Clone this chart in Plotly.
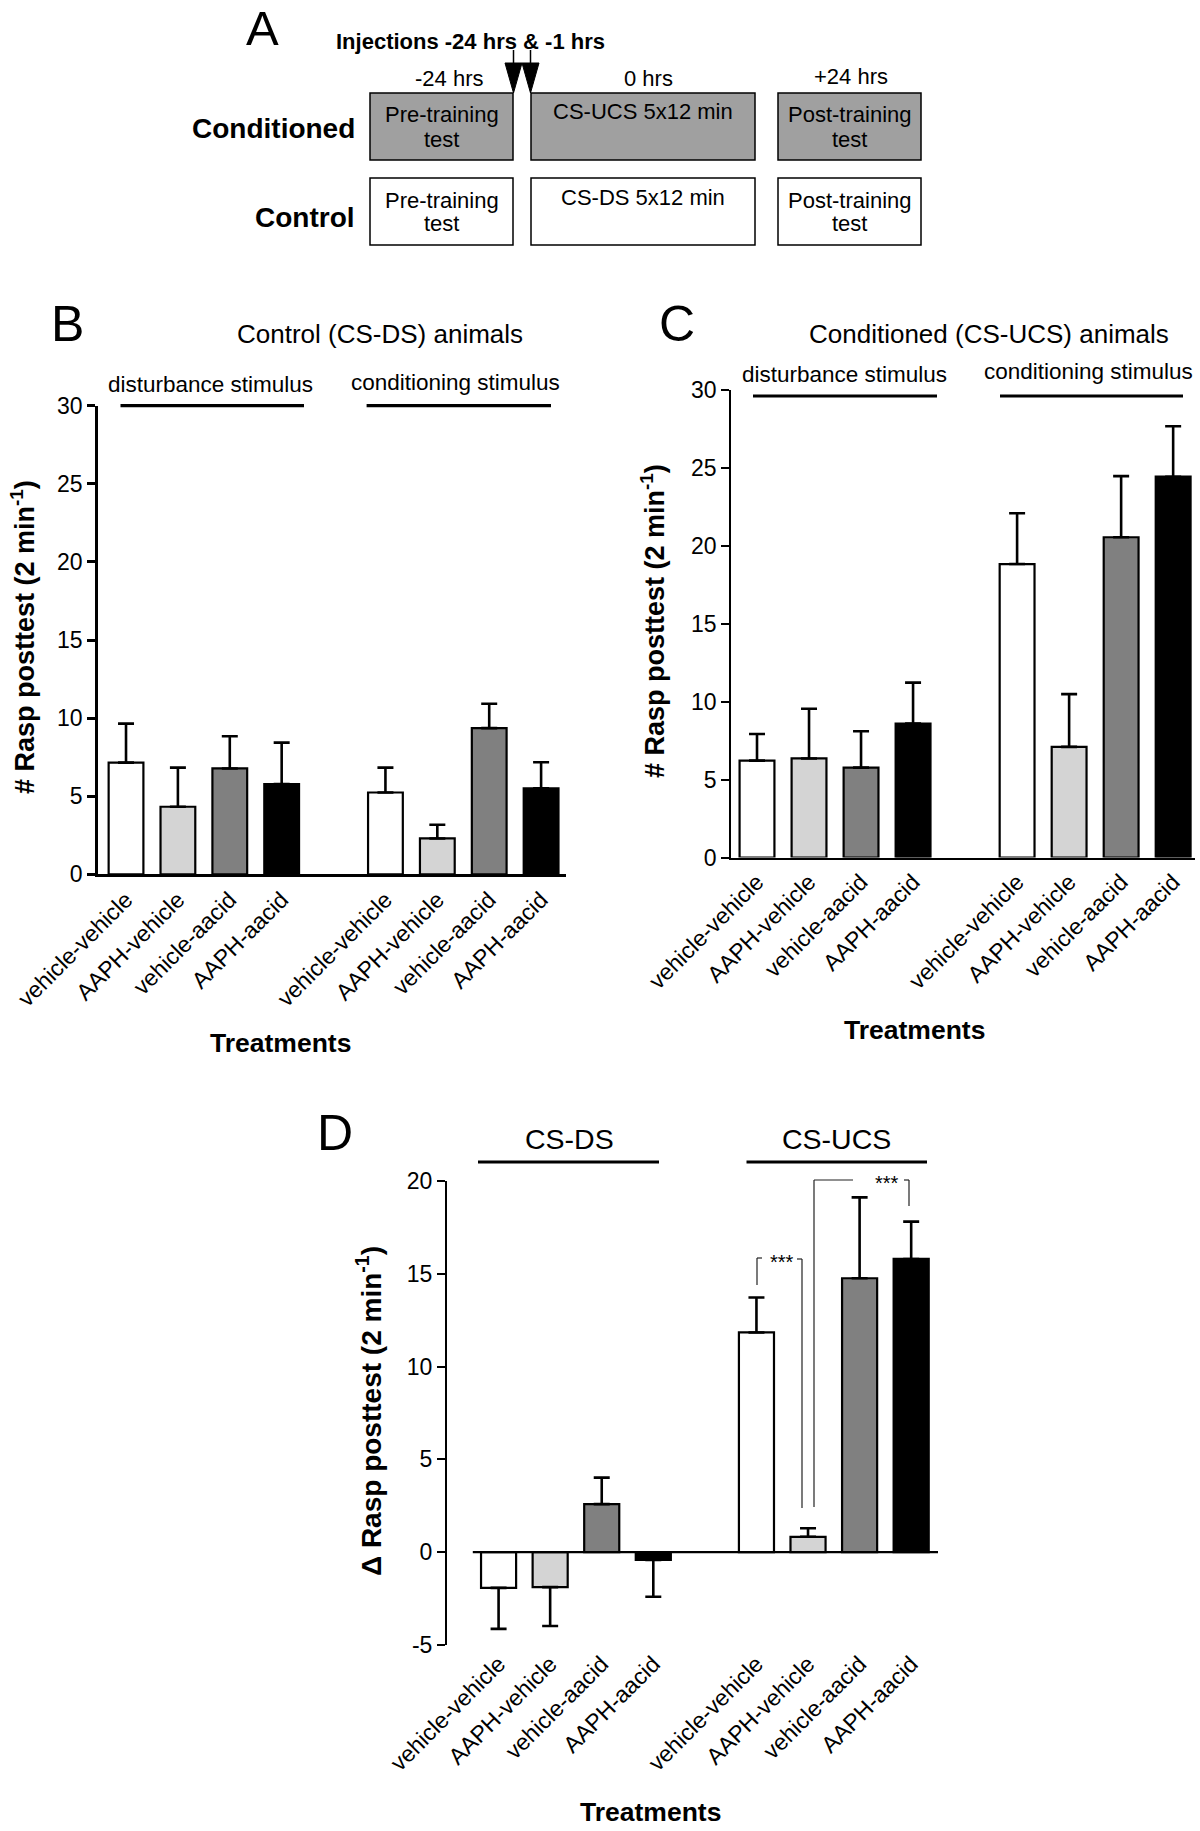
import plotly.graph_objects as go

# ---------------- data ----------------
treatments = ["vehicle-vehicle", "AAPH-vehicle", "vehicle-aacid", "AAPH-aacid"]
bar_colors = ["#ffffff", "#d4d4d4", "#808080", "#000000"]

# Panel B: Control (CS-DS) animals; first 4 = disturbance stimulus, last 4 = conditioning stimulus
b_means = [7.15, 4.33, 6.78, 5.78, 5.24, 2.30, 9.36, 5.51]
b_sem = [2.50, 2.50, 2.06, 2.65, 1.59, 0.88, 1.56, 1.67]

# Panel C: Conditioned (CS-UCS) animals
c_means = [6.21, 6.35, 5.76, 8.58, 18.81, 7.09, 20.53, 24.41]
c_sem = [1.71, 3.19, 2.33, 2.63, 3.26, 3.38, 3.92, 3.23]

# Panel D: delta rasp posttest; first 4 = CS-DS, last 4 = CS-UCS
d_means = [-1.92, -1.88, 2.59, -0.42, 11.84, 0.83, 14.76, 15.80]
d_sem = [2.21, 2.10, 1.43, 1.98, 1.88, 0.46, 4.36, 2.01]

y_ticks_bc = [0, 5, 10, 15, 20, 25, 30]
y_ticks_d = [-5, 0, 5, 10, 15, 20]

# ---------------- helpers ----------------
W, H = 1200, 1831
FONT = "Liberation Sans, Arial, Helvetica, sans-serif"


def X(px):
    return px / W


def Y(py):
    return 1 - py / H


positions = [i + (1 if i >= 4 else 0) for i in range(8)]
labels8 = treatments + treatments
colors8 = bar_colors + bar_colors


def err_parts(means, sem):
    up = [s if m >= 0 else 0 for m, s in zip(means, sem)]
    dn = [s if m < 0 else 0 for m, s in zip(means, sem)]
    return up, dn


fig = go.Figure()

for means, sem, xa, ya, bw in [
    (b_means, b_sem, "x", "y", 0.67),
    (c_means, c_sem, "x2", "y2", 0.67),
    (d_means, d_sem, "x3", "y3", 0.68),
]:
    up, dn = err_parts(means, sem)
    fig.add_trace(go.Bar(
        x=positions, y=means, width=bw,
        marker=dict(color=colors8, line=dict(color="black", width=2.2)),
        error_y=dict(type="data", symmetric=False, array=up, arrayminus=dn,
                     color="black", thickness=2.6, width=8),
        xaxis=xa, yaxis=ya, showlegend=False, hoverinfo="skip",
    ))

axis_common_x = dict(tickmode="array", tickvals=positions, ticktext=labels8,
                     tickangle=-45, ticks="", showgrid=False, zeroline=False,
                     automargin=False,
                     tickfont=dict(family=FONT, size=23, color="black"))

layout = dict(
    template="none",
    width=W, height=H,
    margin=dict(l=0, r=0, t=0, b=0, autoexpand=False),
    paper_bgcolor="white", plot_bgcolor="white",
    showlegend=False,
    font=dict(family=FONT, color="black"),
    xaxis=dict(domain=[X(98), X(566)], range=[-0.54, 8.48], anchor="y",
               showline=True, linecolor="black", linewidth=2.5, **axis_common_x),
    yaxis=dict(domain=[Y(874.4), Y(405.6)], range=[0, 30], anchor="x",
               tickmode="array", tickvals=y_ticks_bc, ticktext=[str(v) for v in y_ticks_bc],
               showline=True, linecolor="black", linewidth=2.5,
               ticks="outside", ticklen=8, tickwidth=2.5, tickcolor="black",
               showgrid=False, zeroline=False, automargin=False,
               tickfont=dict(family=FONT, size=23, color="black")),
    xaxis2=dict(domain=[X(731), X(1195)], range=[-0.5, 8.42], anchor="y2",
                showline=True, linecolor="black", linewidth=2, **axis_common_x),
    yaxis2=dict(domain=[Y(857.5), Y(389.5)], range=[0, 30], anchor="x2",
                tickmode="array", tickvals=y_ticks_bc, ticktext=[str(v) for v in y_ticks_bc],
                showline=True, linecolor="black", linewidth=1.6,
                ticks="outside", ticklen=8, tickwidth=1.6, tickcolor="black",
                showgrid=False, zeroline=False, automargin=False,
                tickfont=dict(family=FONT, size=23, color="black")),
    xaxis3=dict(domain=[X(447), X(938)], range=[-1, 8.52], anchor="y3",
                showline=False, **axis_common_x),
    yaxis3=dict(domain=[Y(1645), Y(1181)], range=[-5, 20], anchor="x3",
                tickmode="array", tickvals=y_ticks_d, ticktext=[str(v) for v in y_ticks_d],
                showline=True, linecolor="black", linewidth=2,
                ticks="outside", ticklen=8, tickwidth=2, tickcolor="black",
                showgrid=False, zeroline=False, automargin=False,
                tickfont=dict(family=FONT, size=23, color="black")),
)
fig.update_layout(**layout)

shapes = []
ann = []


def line(x0, y0, x1, y1, w=3, color="black"):
    shapes.append(dict(type="line", xref="paper", yref="paper",
                       x0=X(x0), y0=Y(y0), x1=X(x1), y1=Y(y1),
                       line=dict(color=color, width=w)))


def text(x, y, t, size=22, bold=False, xanchor="center", angle=0, family=FONT):
    if bold:
        t = "<b>" + t + "</b>"
    ann.append(dict(x=X(x), y=Y(y), xref="paper", yref="paper", text=t,
                    showarrow=False, xanchor=xanchor, yanchor="middle",
                    textangle=angle, font=dict(family=family, size=size, color="black")))


# zero line of panel D (drawn through the data axes)
shapes.append(dict(type="line", xref="x3", yref="y3", x0=-0.5, x1=8.52, y0=0, y1=0,
                   line=dict(color="black", width=2.2), layer="above"))

# ---------------- Panel A ----------------
text(262, 28, "A", size=49)
text(470, 41, "Injections -24 hrs &amp; -1 hrs", size=22, bold=True)
text(449, 78, "-24 hrs", size=22)
text(648, 78, "0 hrs", size=22)
text(851, 77, "+24 hrs", size=22)

boxes_x = [(370, 513), (531, 755), (778, 921)]
for (x0, x1) in boxes_x:
    for (y0, y1, fill) in [(93, 160, "#a0a0a0"), (178, 245, "#ffffff")]:
        shapes.append(dict(type="rect", xref="paper", yref="paper",
                           x0=X(x0), x1=X(x1), y0=Y(y1), y1=Y(y0),
                           fillcolor=fill, line=dict(color="black", width=1.5)))

# injection arrows
for tip in [513.5, 530.5]:
    line(tip, 50, tip, 66, w=1.5)
    shapes.append(dict(type="path", xref="paper", yref="paper",
                       path=f"M {X(tip-8.5)},{Y(63)} L {X(tip+8.5)},{Y(63)} L {X(tip)},{Y(93)} Z",
                       fillcolor="black", line=dict(color="black", width=1)))

text(357, 129, "Conditioned", size=28, bold=True, xanchor="right")
text(357, 218, "Control", size=28, bold=True, xanchor="right")

text(441.5, 115, "Pre-training", size=22)
text(441.5, 139, "test", size=22)
text(643, 112, "CS-UCS 5x12 min", size=22)
text(849.5, 115, "Post-training", size=22)
text(849.5, 139, "test", size=22)

text(441.5, 200, "Pre-training", size=22)
text(441.5, 224, "test", size=22)
text(643, 197, "CS-DS 5x12 min", size=22)
text(849.5, 200, "Post-training", size=22)
text(849.5, 224, "test", size=22)

# ---------------- Panel B ----------------
text(67, 324, "B", size=50)
text(380, 334, "Control (CS-DS) animals", size=26)
text(210, 384, "disturbance stimulus", size=22.5)
text(455, 382, "conditioning stimulus", size=22.5)
line(120.5, 405.6, 304, 405.6, w=3.2)
line(366.6, 405.6, 551, 405.6, w=3.2)
text(23, 637, "# Rasp posttest (2 min<sup>-1</sup>)", size=27, bold=True, angle=-90)
text(280, 1043, "Treatments", size=26.5, bold=True)

# ---------------- Panel C ----------------
text(677, 324, "C", size=50)
text(989, 334, "Conditioned (CS-UCS) animals", size=26)
text(844, 375, "disturbance stimulus", size=22.5)
text(1088, 372, "conditioning stimulus", size=22.5)
line(753, 396, 937, 396, w=3.2)
line(1000, 396, 1183, 396, w=3.2)
text(653, 621, "# Rasp posttest (2 min<sup>-1</sup>)", size=27, bold=True, angle=-90)
text(914, 1030, "Treatments", size=26.5, bold=True)

# ---------------- Panel D ----------------
text(335, 1133, "D", size=50)
text(569, 1139, "CS-DS", size=28.5)
text(836, 1139, "CS-UCS", size=28.5)
line(478, 1162, 659, 1162, w=3.2)
line(746.5, 1162, 927, 1162, w=3.2)
text(369, 1411, "Δ Rasp posttest (2 min<sup>-1</sup>)", size=28, bold=True, angle=-90)
text(650, 1812, "Treatments", size=26.5, bold=True)

# significance brackets
thin = 1.2
gcol = "#222222"
line(757, 1285, 757, 1258, w=thin, color=gcol)
line(757, 1258, 762, 1258, w=thin, color=gcol)
text(782, 1262, "***", size=20)
line(797, 1259, 802, 1259, w=thin, color=gcol)
line(802, 1259, 802, 1508, w=thin, color=gcol)

line(814, 1507, 814, 1180, w=thin, color=gcol)
line(814, 1180, 853, 1180, w=thin, color=gcol)
text(887, 1183, "***", size=20)
line(904, 1180, 909, 1180, w=thin, color=gcol)
line(909, 1180, 909, 1206, w=thin, color=gcol)

fig.update_layout(shapes=shapes, annotations=ann)
fig.write_html("out.html",
               config={"displayModeBar": False},
               post_script="document.body.style.margin='0px';document.body.style.overflow='hidden';")
